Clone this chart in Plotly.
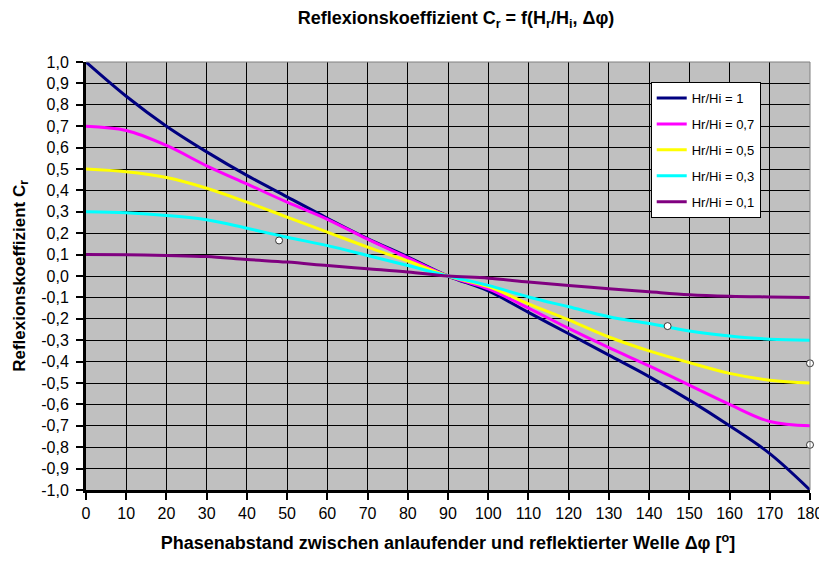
import plotly.graph_objects as go

phase_deg = [0, 10, 20, 30, 40, 50, 60, 70, 80, 90, 100, 110, 120, 130, 140, 150, 160, 170, 180]

cr_hr_1 = [1.0, 0.84, 0.70, 0.58, 0.47, 0.37, 0.27, 0.175, 0.09, 0.0, -0.07, -0.17, -0.27, -0.37, -0.47, -0.58, -0.70, -0.83, -1.0]
cr_hr_07 = [0.70, 0.68, 0.61, 0.515, 0.43, 0.345, 0.265, 0.172, 0.085, 0.0, -0.06, -0.15, -0.245, -0.335, -0.42, -0.51, -0.60, -0.68, -0.70]
cr_hr_05 = [0.50, 0.487, 0.46, 0.41, 0.345, 0.275, 0.205, 0.135, 0.07, 0.0, -0.05, -0.13, -0.205, -0.285, -0.35, -0.405, -0.455, -0.487, -0.50]
cr_hr_03 = [0.30, 0.295, 0.283, 0.263, 0.223, 0.181, 0.142, 0.096, 0.049, 0.0, -0.044, -0.098, -0.144, -0.19, -0.222, -0.257, -0.28, -0.295, -0.30]
cr_hr_01 = [0.10, 0.099, 0.096, 0.091, 0.077, 0.065, 0.049, 0.034, 0.019, 0.0, -0.01, -0.028, -0.044, -0.059, -0.074, -0.088, -0.095, -0.098, -0.10]

series_names = ["Hr/Hi = 1", "Hr/Hi = 0,7", "Hr/Hi = 0,5", "Hr/Hi = 0,3", "Hr/Hi = 0,1"]
series_values = [cr_hr_1, cr_hr_07, cr_hr_05, cr_hr_03, cr_hr_01]
series_colors = ["#000080", "#FF00FF", "#FFFF00", "#00FFFF", "#800080"]

extra_x = [48, 144.6, 180, 180]
extra_y = [0.166, -0.234, -0.408, -0.789]

x_ticks = list(range(0, 181, 10))
y_tick_vals = [round(-1 + 0.1 * i, 1) for i in range(21)]
y_tick_text = [("%.1f" % v).replace(".", ",").replace("-0,0", "0,0") for v in y_tick_vals]

FONT = "Liberation Sans, Arial, sans-serif"

fig = go.Figure()
for i, (name, vals, col) in enumerate(zip(series_names, series_values, series_colors)):
    fig.add_trace(go.Scatter(
        x=phase_deg, y=vals, name=name, mode="lines",
        line=dict(color=col, width=3, shape="spline", smoothing=1.0),
        legendgroup="g%d" % i,
    ))

fig.add_trace(go.Scatter(
    x=extra_x, y=extra_y, mode="markers", showlegend=False,
    marker=dict(symbol="circle", size=7, color="white", line=dict(color="#333333", width=1)),
    cliponaxis=False,
))

fig.update_layout(
    width=819, height=556,
    margin=dict(l=78, r=17, t=54, b=74),
    paper_bgcolor="white",
    plot_bgcolor="#C0C0C0",
    font=dict(family=FONT, size=15, color="black"),
    title=dict(
        text="<b>Reflexionskoeffizient C<sub>r</sub> = f(H<sub>r</sub>/H<sub>i</sub>, Δφ)</b>",
        x=0.547, xanchor="center", y=0.982, yanchor="middle",
        font=dict(size=18), automargin=False,
    ),
    showlegend=True,
    legend=dict(
        x=0.780, xanchor="left", y=0.953, yanchor="top",
        bgcolor="white", bordercolor="black", borderwidth=1,
        font=dict(size=13), tracegroupgap=6,
    ),
    xaxis=dict(
        range=[0, 180], tickvals=x_ticks, ticktext=[str(v) for v in x_ticks],
        showgrid=True, gridcolor="black", gridwidth=1,
        showline=True, linecolor="black", linewidth=3,
        ticks="outside", ticklen=7, tickwidth=2, tickcolor="black",
        tickfont=dict(size=16), zeroline=False, automargin=False,
        title=dict(text="<b>Phasenabstand zwischen anlaufender und reflektierter Welle Δφ [<sup>o</sup>]</b>",
                   font=dict(size=18), standoff=16),
    ),
    yaxis=dict(
        range=[-1, 1], tickvals=y_tick_vals, ticktext=y_tick_text,
        showgrid=True, gridcolor="black", gridwidth=1,
        showline=True, linecolor="black", linewidth=3,
        ticks="outside", ticklen=7, tickwidth=2, tickcolor="black",
        tickfont=dict(size=16), zeroline=False, automargin=False,
        ticklabelstandoff=4,
        title=dict(text="<b>Reflexionskoeffizient C<sub>r</sub></b>", font=dict(size=17), standoff=12),
    ),
)

fig.add_shape(type="line", xref="x domain", yref="y domain", x0=0, x1=1, y0=1, y1=1,
              line=dict(color="#808080", width=1), layer="above")
fig.add_shape(type="line", xref="x domain", yref="y domain", x0=1, x1=1, y0=0, y1=1,
              line=dict(color="#808080", width=1), layer="above")

fig.write_html("out.html")
